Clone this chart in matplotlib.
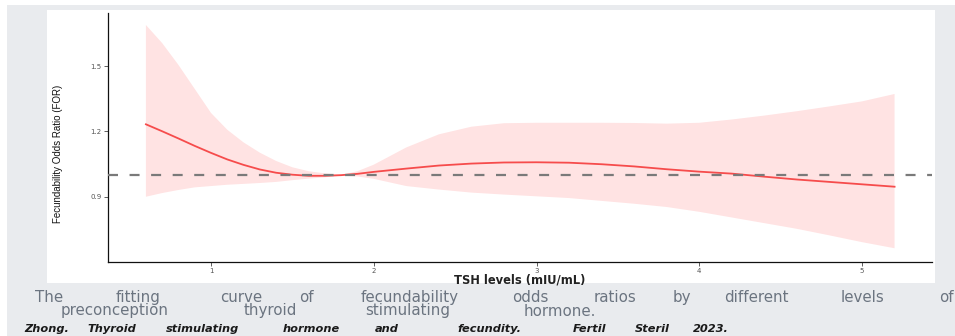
import matplotlib

matplotlib.use("Agg")
import matplotlib.pyplot as plt
from matplotlib.patches import Rectangle

W, H = 955, 336

# TSH (mIU/mL) and fitted fecundability odds ratio with its confidence band
tsh = [0.6, 0.7, 0.8, 0.9, 1.0, 1.1, 1.2, 1.3, 1.4, 1.5, 1.6, 1.7, 1.8, 1.9,
       2.0, 2.2, 2.4, 2.6, 2.8, 3.0, 3.2, 3.4, 3.6, 3.8, 4.0, 4.2, 4.4, 4.6,
       4.8, 5.0, 5.2]
for_fit = [1.233, 1.201, 1.168, 1.134, 1.102, 1.072, 1.047, 1.026, 1.011, 1.002,
           0.997, 0.997, 1.000, 1.006, 1.015, 1.030, 1.044, 1.053, 1.058, 1.059,
           1.057, 1.050, 1.040, 1.027, 1.016, 1.007, 0.993, 0.980, 0.969, 0.958,
           0.947]
ci_upper = [1.688, 1.605, 1.505, 1.395, 1.285, 1.208, 1.150, 1.103, 1.065, 1.036,
            1.018, 1.008, 1.001, 1.018, 1.048, 1.127, 1.187, 1.222, 1.238, 1.240,
            1.240, 1.240, 1.239, 1.236, 1.240, 1.255, 1.273, 1.293, 1.315, 1.338,
            1.372]
ci_lower = [0.901, 0.918, 0.932, 0.944, 0.950, 0.956, 0.960, 0.964, 0.969, 0.977,
            0.984, 0.990, 0.998, 0.994, 0.983, 0.950, 0.934, 0.920, 0.911, 0.903,
            0.895, 0.882, 0.869, 0.854, 0.832, 0.806, 0.780, 0.754, 0.724, 0.693,
            0.665]

x_ticks = [1, 2, 3, 4, 5]
y_ticks = [0.9, 1.2, 1.5]
y_tick_labels = ["0.9", "1.2", "1.5"]

# caption words with their centre x (px) in the reference layout
caption_line1 = ["The", "fitting", "curve", "of", "fecundability", "odds", "ratios",
                 "by", "different", "levels", "of"]
caption_line1_x = [49, 138, 241, 306, 410, 530, 615, 682, 756, 862, 946]
caption_line2 = ["preconception", "thyroid", "stimulating", "hormone."]
caption_line2_x = [115, 270, 408, 560]
source_words = ["Zhong.", "Thyroid", "stimulating", "hormone", "and", "fecundity.",
                "Fertil", "Steril", "2023."]
source_x = [47, 112, 203, 311, 387, 489, 590, 652, 711]


def fx(x):
    return x / W


def fy(y):
    return 1 - y / H


fig = plt.figure(figsize=(W / 100, H / 100), dpi=100)
fig.patch.set_facecolor("#ffffff")

# grey page background and white figure panel, behind everything
bg = fig.add_axes([0, 0, 1, 1], zorder=-10)
bg.set_xlim(0, W)
bg.set_ylim(H, 0)
bg.axis("off")
bg.add_patch(Rectangle((7, 5), W - 7, H - 5, facecolor="#e9ebee", edgecolor="none"))
bg.add_patch(Rectangle((47, 10), 935 - 47, 283 - 10, facecolor="#ffffff", edgecolor="none"))

ax = fig.add_axes([fx(108), fy(262), fx(932) - fx(108), fy(13) - fy(262)], zorder=1)
ax.set_facecolor("none")

ax.fill_between(tsh, ci_lower, ci_upper, facecolor="#ffe3e3", edgecolor="none", zorder=1)
ax.plot(tsh, for_fit, color="#f64c4c", linewidth=1.3, zorder=2)
ax.axhline(1.0, color="#7a7a7a", linewidth=1.6, linestyle=(0, (4.5, 5.2)), zorder=3)

ax.set_xlim(0.367, 5.43)
ax.set_ylim(0.602, 1.743)
ax.set_xticks(x_ticks)
ax.set_xticklabels([str(v) for v in x_ticks])
ax.set_yticks(y_ticks)
ax.set_yticklabels(y_tick_labels)
ax.tick_params(axis="both", length=3, width=0.6, color="#444444",
               labelsize=5, labelcolor="#555555", pad=1.5)

for spine in ("top", "right"):
    ax.spines[spine].set_visible(False)
for spine in ("left", "bottom"):
    ax.spines[spine].set_color("#111111")
    ax.spines[spine].set_linewidth(0.9)

fig.text(fx(58), fy(154), "Fecundability Odds Ratio (FOR)", rotation=90,
         ha="center", va="center", fontsize=7, family="Liberation Sans", color="#111111")
fig.text(fx(520), fy(283.5), "TSH levels (mIU/mL)", ha="center", va="baseline",
         fontsize=8.3, fontweight="bold", color="#222222")

for word, x in zip(caption_line1, caption_line1_x):
    fig.text(fx(x), fy(302), word, ha="center", va="baseline", fontsize=10.8,
             color="#6b7480", family="DejaVu Sans")
for word, x in zip(caption_line2, caption_line2_x):
    fig.text(fx(x), fy(315.5), word, ha="center", va="baseline", fontsize=10.8,
             color="#6b7480", family="DejaVu Sans")
for word, x in zip(source_words, source_x):
    fig.text(fx(x), fy(332.5), word, ha="center", va="baseline", fontsize=8.2,
             color="#1a1a1a", family="DejaVu Sans", fontweight="bold", fontstyle="italic")

fig.savefig("out.png", dpi=100)
plt.close(fig)
